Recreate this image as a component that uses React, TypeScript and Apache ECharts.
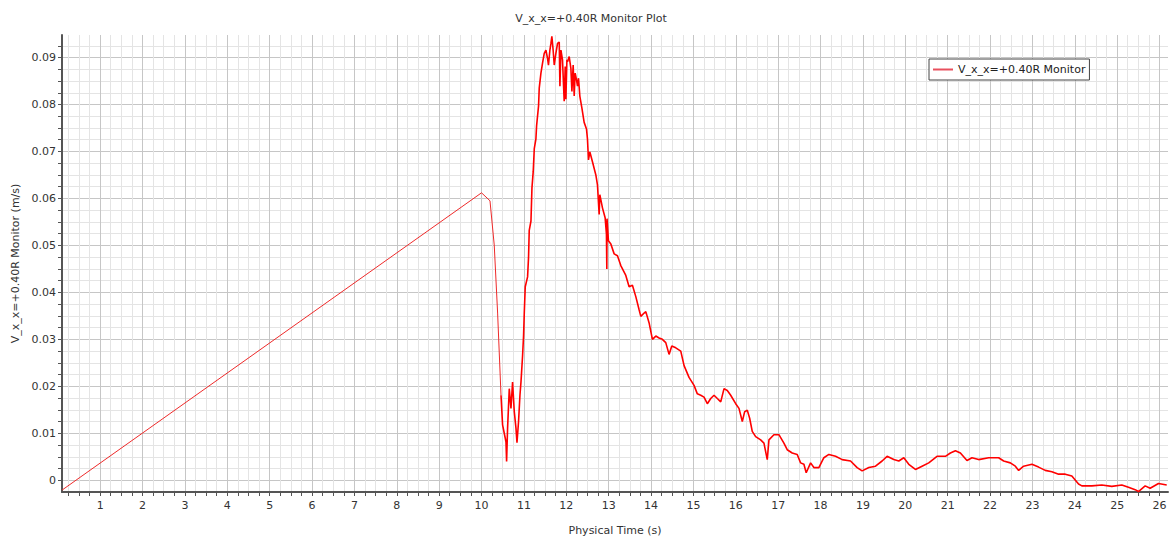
import React, { useEffect, useRef } from "react";
import * as echarts from "echarts";

// Monitor samples [physical time (s), V_x (m/s)]
const rampSegment: number[][] = [
  [0.1, -0.0021], [10.0, 0.0612], [10.2, 0.0595], [10.3, 0.0501], [10.38, 0.0356], [10.46, 0.0181],
];
const troughSegment: number[][] = [
  [10.497, 0.0118], [10.577, 0.0082], [10.592, 0.004], [10.615, 0.0111], [10.655, 0.0195],
  [10.695, 0.0153], [10.733, 0.0209], [10.773, 0.0146], [10.813, 0.0111], [10.837, 0.008],
  [10.874, 0.0125], [10.907, 0.0181], [10.931, 0.0209], [10.969, 0.0265], [10.992, 0.0307],
  [11.009, 0.0356], [11.032, 0.0412], [11.087, 0.0433], [11.11, 0.0475], [11.126, 0.0532],
  [11.167, 0.0552], [11.19, 0.0622], [11.22, 0.0657],
];
const peakSegment: number[][] = [
  [11.245, 0.0706], [11.284, 0.0727], [11.3, 0.0755], [11.346, 0.0797], [11.362, 0.0835],
  [11.402, 0.0867], [11.44, 0.0888], [11.48, 0.0909], [11.52, 0.0916], [11.558, 0.0898],
  [11.58, 0.0884], [11.614, 0.0916], [11.638, 0.093], [11.66, 0.0945], [11.69, 0.0916],
  [11.716, 0.0884], [11.755, 0.0909], [11.794, 0.093], [11.834, 0.0933], [11.85, 0.0839],
  [11.874, 0.0916], [11.911, 0.0895], [11.951, 0.0807], [11.975, 0.0881], [11.991, 0.0811],
  [12.015, 0.0895], [12.03, 0.0891], [12.069, 0.0902], [12.109, 0.0877], [12.133, 0.0828],
  [12.163, 0.0884], [12.187, 0.0818], [12.21, 0.0867], [12.241, 0.0853], [12.265, 0.0839],
  [12.289, 0.0856], [12.32, 0.0818], [12.368, 0.0793], [12.422, 0.0762], [12.477, 0.0748],
  [12.5, 0.0727], [12.524, 0.0682], [12.557, 0.0699], [12.618, 0.0678], [12.698, 0.065],
  [12.736, 0.0629], [12.776, 0.0566], [12.792, 0.0608], [12.854, 0.058], [12.917, 0.0559],
  [12.948, 0.0524], [12.957, 0.045], [12.962, 0.0557], [12.995, 0.051],
];
const decaySegment: number[][] = [
  [13.052, 0.0503], [13.13, 0.0482], [13.208, 0.0478], [13.287, 0.0457], [13.405, 0.0436],
  [13.483, 0.0412], [13.561, 0.0415], [13.641, 0.0391], [13.719, 0.0363],
  [13.759, 0.0349], [13.837, 0.0356], [13.877, 0.0359], [13.955, 0.0335], [14.033, 0.03],
  [14.113, 0.0307], [14.19, 0.0303], [14.268, 0.03], [14.348, 0.0293], [14.426, 0.0268],
  [14.49, 0.0286], [14.584, 0.0282], [14.702, 0.0275], [14.78, 0.0244], [14.897, 0.0219],
  [15.015, 0.0202], [15.093, 0.0184], [15.173, 0.0181], [15.251, 0.0177], [15.329, 0.0163],
  [15.409, 0.0174], [15.487, 0.0181], [15.565, 0.0174], [15.645, 0.0167], [15.723, 0.0195],
  [15.8, 0.0191], [15.88, 0.0181], [15.998, 0.0163], [16.076, 0.0153], [16.154, 0.0125],
  [16.21, 0.0146], [16.272, 0.0149], [16.328, 0.0132], [16.389, 0.0104], [16.469, 0.0093],
  [16.587, 0.0086], [16.665, 0.0079], [16.743, 0.0044], [16.783, 0.0086], [16.9, 0.0097],
  [17.018, 0.0097], [17.136, 0.0079], [17.214, 0.0065], [17.332, 0.0058], [17.45, 0.0055],
  [17.53, 0.0037], [17.608, 0.0034], [17.662, 0.0016], [17.766, 0.0037], [17.843, 0.0027],
  [17.961, 0.0027],
];
const tailSegment: number[][] = [
  [18.079, 0.0048], [18.197, 0.0055], [18.355, 0.0051], [18.511, 0.0044], [18.709, 0.0041],
  [18.864, 0.0027], [18.982, 0.002], [19.14, 0.0027], [19.298, 0.003], [19.453, 0.0041],
  [19.571, 0.0051], [19.729, 0.0044], [19.847, 0.0041], [19.965, 0.0048], [20.083, 0.0034],
  [20.24, 0.0023], [20.396, 0.003], [20.554, 0.0037], [20.749, 0.0051], [20.947, 0.0051],
  [21.065, 0.0058], [21.183, 0.0063], [21.301, 0.0058], [21.456, 0.0042], [21.574, 0.0048],
  [21.732, 0.0044], [21.968, 0.0048], [22.204, 0.0048], [22.322, 0.0041], [22.479, 0.0037],
  [22.597, 0.003], [22.675, 0.0021], [22.793, 0.003], [22.989, 0.0034], [23.146, 0.0028],
  [23.304, 0.0021], [23.46, 0.0018], [23.618, 0.0013], [23.775, 0.0013], [23.931, 0.0009],
  [24.089, -0.0008], [24.167, -0.0012], [24.403, -0.0012], [24.638, -0.001], [24.874, -0.0013],
  [25.11, -0.001], [25.267, -0.0015], [25.425, -0.002], [25.503, -0.0024], [25.661, -0.0012],
  [25.779, -0.0017], [25.975, -0.0007], [26.17, -0.001],
];

const xLabelValues = [1, 2, 3, 4, 5, 6, 7, 8, 9, 10, 11, 12, 13, 14, 15, 16, 17, 18, 19, 20, 21, 22, 23, 24, 25, 26];
const yLabelValues = [0, 0.01, 0.02, 0.03, 0.04, 0.05, 0.06, 0.07, 0.08, 0.09];
const xMin = 0.1;
const xMax = 26.2;
const yMin = -0.0025;
const yMax = 0.0948;
const xMinorStep = 0.25;
const yMinorStep = 0.0025;

const seriesName = "V_x_x=+0.40R Monitor";
const FONT = "DejaVu Sans";
const MAJOR = "#c6c6c6";
const MINOR = "#e4e4e4";
const LEGEND_RED = "#e8505e";

export default function App() {
  const ref = useRef<HTMLDivElement>(null);
  useEffect(() => {
    const chart = echarts.init(ref.current!, null, { renderer: "svg" });
    const thinData = rampSegment;
    const noisyData = [rampSegment[rampSegment.length - 1], ...troughSegment, ...peakSegment, ...decaySegment, ...tailSegment];
    const xTicks: number[] = [];
    for (let k = 1; k * xMinorStep <= xMax; k++) xTicks.push(+(k * xMinorStep).toFixed(2));
    const yTicks: number[] = [];
    for (let k = 0; k * yMinorStep <= yMax; k++) yTicks.push(+(k * yMinorStep).toFixed(4));

    chart.setOption({
      animation: false,
      backgroundColor: "#ffffff",
      title: {
        text: "V_x_x=+0.40R Monitor Plot",
        left: 586,
        textAlign: "center",
        top: 8,
        textStyle: { fontFamily: FONT, fontSize: 11, fontWeight: "normal", color: "#333" },
      },
      legend: {
        data: [{ name: seriesName, itemStyle: { color: LEGEND_RED } }],
        left: 929,
        top: 59,
        orient: "vertical",
        backgroundColor: "#fff",
        borderColor: "#444",
        borderWidth: 1,
        borderRadius: 0,
        padding: [5, 4, 5, 4],
        itemWidth: 20,
        itemHeight: 2,
        itemGap: 4,
        icon: "rect",
        itemStyle: { color: LEGEND_RED },
        textStyle: { fontFamily: FONT, fontSize: 11, color: "#222" },
      },
      grid: { left: 62, right: 5, top: 35, bottom: 43, containLabel: false },
      xAxis: {
        type: "value",
        min: xMin,
        max: xMax,
        name: "Physical Time (s)",
        nameLocation: "middle",
        nameGap: 33,
        nameTextStyle: { fontFamily: FONT, fontSize: 11, color: "#333" },
        axisLine: { show: true, onZero: false, lineStyle: { color: "#555", width: 2 } },
        axisTick: { show: true, customValues: xTicks, length: 4, lineStyle: { color: "#555" } },
        axisLabel: {
          customValues: xLabelValues,
          fontFamily: FONT,
          fontSize: 11,
          color: "#333",
          margin: 8,
          formatter: (v: number) => String(Math.round(v)),
        },
        splitLine: { show: true, lineStyle: { color: [MINOR, MINOR, MINOR, MAJOR], width: 1 } },
      },
      yAxis: {
        type: "value",
        min: yMin,
        max: yMax,
        name: "V_x_x=+0.40R Monitor (m/s)",
        nameLocation: "middle",
        nameGap: 40,
        nameTextStyle: { fontFamily: FONT, fontSize: 11, color: "#333" },
        axisLine: { show: true, onZero: false, lineStyle: { color: "#555", width: 2 } },
        axisTick: { show: true, customValues: yTicks, length: 4, lineStyle: { color: "#555" } },
        axisLabel: {
          customValues: yLabelValues,
          fontFamily: FONT,
          fontSize: 11,
          color: "#333",
          margin: 6,
          formatter: (v: number) => (Math.abs(v) < 1e-9 ? "0" : v.toFixed(2)),
        },
        splitLine: { show: true, lineStyle: { color: [MAJOR, MINOR, MINOR, MINOR], width: 1 } },
      },
      series: [
        {
          name: seriesName,
          type: "line",
          data: thinData,
          showSymbol: false,
          symbol: "none",
          lineStyle: { color: "#ee2a2a", width: 1 },
          itemStyle: { color: LEGEND_RED },
        },
        {
          name: seriesName,
          type: "line",
          data: noisyData,
          showSymbol: false,
          symbol: "none",
          lineStyle: { color: "#ff0000", width: 1.6 },
          itemStyle: { color: LEGEND_RED },
        },
      ],
    });
    return () => chart.dispose();
  }, []);
  return (
    <div
      ref={ref}
      style={{ position: "fixed", left: 0, top: 0, width: 1173, height: 541, background: "#fff" }}
    />
  );
}
